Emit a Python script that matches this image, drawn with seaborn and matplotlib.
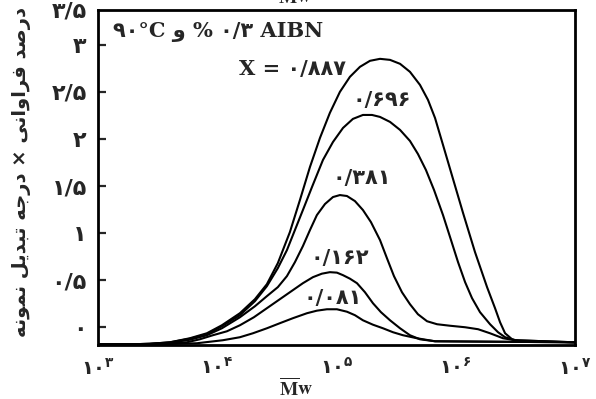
import numpy as np
import pandas as pd
import matplotlib
matplotlib.use('Agg')
import matplotlib.pyplot as plt
from matplotlib.ticker import NullLocator
import seaborn as sns

# Molecular weight distribution curves (0.3 % AIBN, 90 C) at several conversions
conversions = ['۰/۸۸۷', '۰/۶۹۶', '۰/۳۸۱', '۰/۱۶۲', '۰/۰۸۱']

logmw_887 = [3.000, 3.268, 3.436, 3.604, 3.771, 3.914, 4.040, 4.191, 4.317, 4.417, 4.509,
             4.610, 4.694, 4.778, 4.862, 4.945, 5.029, 5.113, 5.197, 5.281, 5.365, 5.449,
             5.533, 5.616, 5.700, 5.767, 5.826, 5.893, 5.977, 6.061, 6.161, 6.262, 6.329,
             6.371, 6.413, 6.472, 6.539, 7.000]
freq_887 = [-0.181, -0.181, -0.176, -0.160, -0.117, -0.064, 0.021, 0.149, 0.298, 0.457, 0.681,
            1.011, 1.351, 1.702, 2.011, 2.277, 2.500, 2.660, 2.766, 2.830, 2.851, 2.840,
            2.798, 2.713, 2.574, 2.415, 2.223, 1.936, 1.574, 1.213, 0.798, 0.426, 0.202,
            0.053, -0.064, -0.128, -0.149, -0.160]

logmw_696 = [3.000, 3.268, 3.436, 3.604, 3.771, 3.914, 4.040, 4.191, 4.317, 4.417, 4.509,
             4.585, 4.652, 4.719, 4.795, 4.887, 4.971, 5.055, 5.138, 5.222, 5.298, 5.365,
             5.449, 5.533, 5.616, 5.683, 5.750, 5.818, 5.893, 5.960, 6.019, 6.078, 6.136,
             6.203, 6.287, 6.354, 6.413, 6.497, 7.000]
freq_696 = [-0.181, -0.181, -0.176, -0.160, -0.122, -0.074, 0.011, 0.128, 0.277, 0.436, 0.628,
            0.819, 1.032, 1.245, 1.489, 1.777, 1.968, 2.117, 2.213, 2.255, 2.255, 2.234,
            2.181, 2.096, 1.979, 1.840, 1.670, 1.457, 1.191, 0.926, 0.691, 0.479, 0.309,
            0.160, 0.032, -0.053, -0.106, -0.138, -0.160]

logmw_381 = [3.000, 3.268, 3.436, 3.604, 3.771, 3.914, 4.040, 4.191, 4.317, 4.417, 4.509,
             4.585, 4.652, 4.719, 4.778, 4.836, 4.904, 4.971, 5.029, 5.088, 5.155, 5.222,
             5.289, 5.365, 5.423, 5.482, 5.549, 5.616, 5.683, 5.759, 5.843, 5.952, 6.078,
             6.187, 6.287, 6.396, 6.497, 7.000]
freq_381 = [-0.181, -0.181, -0.176, -0.165, -0.133, -0.085, -0.011, 0.106, 0.223, 0.330, 0.426,
            0.543, 0.691, 0.862, 1.032, 1.191, 1.309, 1.383, 1.404, 1.394, 1.340, 1.245,
            1.117, 0.926, 0.734, 0.543, 0.372, 0.245, 0.138, 0.064, 0.032, 0.016, 0.000,
            -0.021, -0.064, -0.117, -0.138, -0.160]

logmw_162 = [3.000, 3.436, 3.746, 3.855, 3.964, 4.082, 4.191, 4.308, 4.417, 4.526, 4.635,
             4.719, 4.803, 4.878, 4.945, 5.004, 5.055, 5.113, 5.172, 5.239, 5.306, 5.373,
             5.449, 5.533, 5.616, 5.700, 5.826, 7.000]
freq_162 = [-0.181, -0.181, -0.160, -0.128, -0.085, -0.043, 0.021, 0.106, 0.202, 0.298, 0.394,
            0.468, 0.532, 0.569, 0.585, 0.580, 0.553, 0.516, 0.468, 0.372, 0.255, 0.160,
            0.074, -0.011, -0.085, -0.128, -0.149, -0.160]

logmw_081 = [3.000, 3.520, 3.830, 4.048, 4.191, 4.300, 4.417, 4.526, 4.635, 4.753, 4.836,
             4.920, 5.004, 5.088, 5.155, 5.222, 5.306, 5.390, 5.474, 5.558, 5.675, 5.826,
             7.000]
freq_081 = [-0.181, -0.181, -0.170, -0.138, -0.106, -0.064, -0.011, 0.043, 0.096, 0.149, 0.176,
            0.191, 0.191, 0.165, 0.128, 0.074, 0.027, -0.011, -0.053, -0.085, -0.117, -0.149,
            -0.160]

# label positions (log10 Mw, value) for each curve
label_logmw = [4.63, 5.38, 5.21, 5.03, 4.97]
label_freq = [2.74, 2.41, 1.585, 0.74, 0.31]

ytick_vals = [0, 0.5, 1, 1.5, 2, 2.5, 3]
ytick_text = ['۰', '۰/۵', '۱', '۱/۵', '۲', '۲/۵', '۳']
xtick_vals = [1e3, 1e4, 1e5, 1e6, 1e7]
xtick_exp = ['۳', '۴', '۵', '۶', '۷']

# simple Persian shaping (matplotlib has no complex text layout)
FORMS = {
    'ا': ('\uFE8D', '\uFE8E', None, None),
    'ب': ('\uFE8F', '\uFE90', '\uFE91', '\uFE92'),
    'ت': ('\uFE95', '\uFE96', '\uFE97', '\uFE98'),
    'ج': ('\uFE9D', '\uFE9E', '\uFE9F', '\uFEA0'),
    'د': ('\uFEA9', '\uFEAA', None, None),
    'ر': ('\uFEAD', '\uFEAE', None, None),
    'ص': ('\uFEB9', '\uFEBA', '\uFEBB', '\uFEBC'),
    'ف': ('\uFED1', '\uFED2', '\uFED3', '\uFED4'),
    'ل': ('\uFEDD', '\uFEDE', '\uFEDF', '\uFEE0'),
    'م': ('\uFEE1', '\uFEE2', '\uFEE3', '\uFEE4'),
    'ن': ('\uFEE5', '\uFEE6', '\uFEE7', '\uFEE8'),
    'ه': ('\uFEE9', '\uFEEA', '\uFEEB', '\uFEEC'),
    'و': ('\uFEED', '\uFEEE', None, None),
    'ی': ('\uFBFC', '\uFBFD', '\uFBFE', '\uFBFF'),
}


def shape_fa(text):
    out = []
    for i, ch in enumerate(text):
        if ch not in FORMS:
            out.append(ch)
            continue
        prev = text[i - 1] if i > 0 else ''
        nxt = text[i + 1] if i + 1 < len(text) else ''
        join_prev = prev in FORMS and FORMS[prev][2] is not None
        join_next = nxt in FORMS and FORMS[ch][2] is not None
        iso, fin, ini, med = FORMS[ch]
        if join_prev and join_next:
            out.append(med)
        elif join_prev:
            out.append(fin)
        elif join_next:
            out.append(ini)
        else:
            out.append(iso)
    return ''.join(reversed(out))


ylabel = shape_fa('درصد فراوانی × درجه تبدیل نمونه')

frames = []
for name, lx, fy in zip(conversions,
                        [logmw_887, logmw_696, logmw_381, logmw_162, logmw_081],
                        [freq_887, freq_696, freq_381, freq_162, freq_081]):
    frames.append(pd.DataFrame({'mw': 10 ** np.array(lx), 'freq': fy, 'curve': name}))
df = pd.concat(frames, ignore_index=True)

sns.set_style('ticks')
plt.rcParams['font.family'] = ['DejaVu Sans']
plt.rcParams['mathtext.fontset'] = 'stix'
fa_font = ['DejaVu Sans']
mix_font = ['DejaVu Serif', 'DejaVu Sans']

fig = plt.figure(figsize=(5.96, 3.99), dpi=100)
ax = fig.add_axes([0.164, 0.135, 0.801, 0.84])

sns.lineplot(data=df, x='mw', y='freq', units='curve', estimator=None,
             color='black', lw=1.5, solid_joinstyle='round', ax=ax, legend=False)

ax.set_xscale('log')
ax.set_xlim(1e3, 1e7)
ax.set_ylim(-0.19, 3.37)
ax.xaxis.set_minor_locator(NullLocator())
ax.set_xticks(xtick_vals)
ax.set_xticklabels([r'$\mathregular{۱۰^{%s}}$' % e for e in xtick_exp],
                   fontsize=14, fontweight='bold', family=fa_font)
ax.set_yticks(ytick_vals)
ax.set_yticklabels(ytick_text, fontsize=16, fontweight='bold', family=fa_font)
ax.tick_params(axis='y', direction='in', length=6, width=1.6, pad=8)
ax.tick_params(axis='x', length=0, pad=9)
for sp in ax.spines.values():
    sp.set_linewidth(2.0)
    sp.set_color('black')

# top label of the y axis, sitting on the frame
ax.annotate('۳/۵', xy=(0, 1), xycoords='axes fraction', xytext=(-8, -1),
            textcoords='offset points', ha='right', va='center',
            fontsize=16, fontweight='bold', family=fa_font)

ax.set_xlabel(r'$\overline{\mathbf{M}}\mathbf{w}$', fontsize=14)
ax.xaxis.set_label_coords(0.415, -0.095)
ax.set_ylabel(ylabel, fontsize=14, fontweight='bold', family=fa_font)
ax.yaxis.set_label_coords(-0.14, 0.516)

for name, lx, fy in zip(conversions, label_logmw, label_freq):
    txt = name if name != '۰/۸۸۷' else 'X = ' + name
    ax.text(10 ** lx, fy, txt, ha='center', va='center', fontsize=15,
            fontweight='bold', family=mix_font)

ax.text(0.031, 0.934, '۹۰°C و % ۰/۳ AIBN', transform=ax.transAxes, ha='left',
        va='center', fontsize=15, fontweight='bold', family=mix_font)

# cut-off caption from the scanned page above the chart
fig.text(0.495, 1.01, r'$\overline{\mathbf{M}}\mathbf{w}$', ha='center', va='center', fontsize=14)

fig.savefig('out.png', dpi=100)
